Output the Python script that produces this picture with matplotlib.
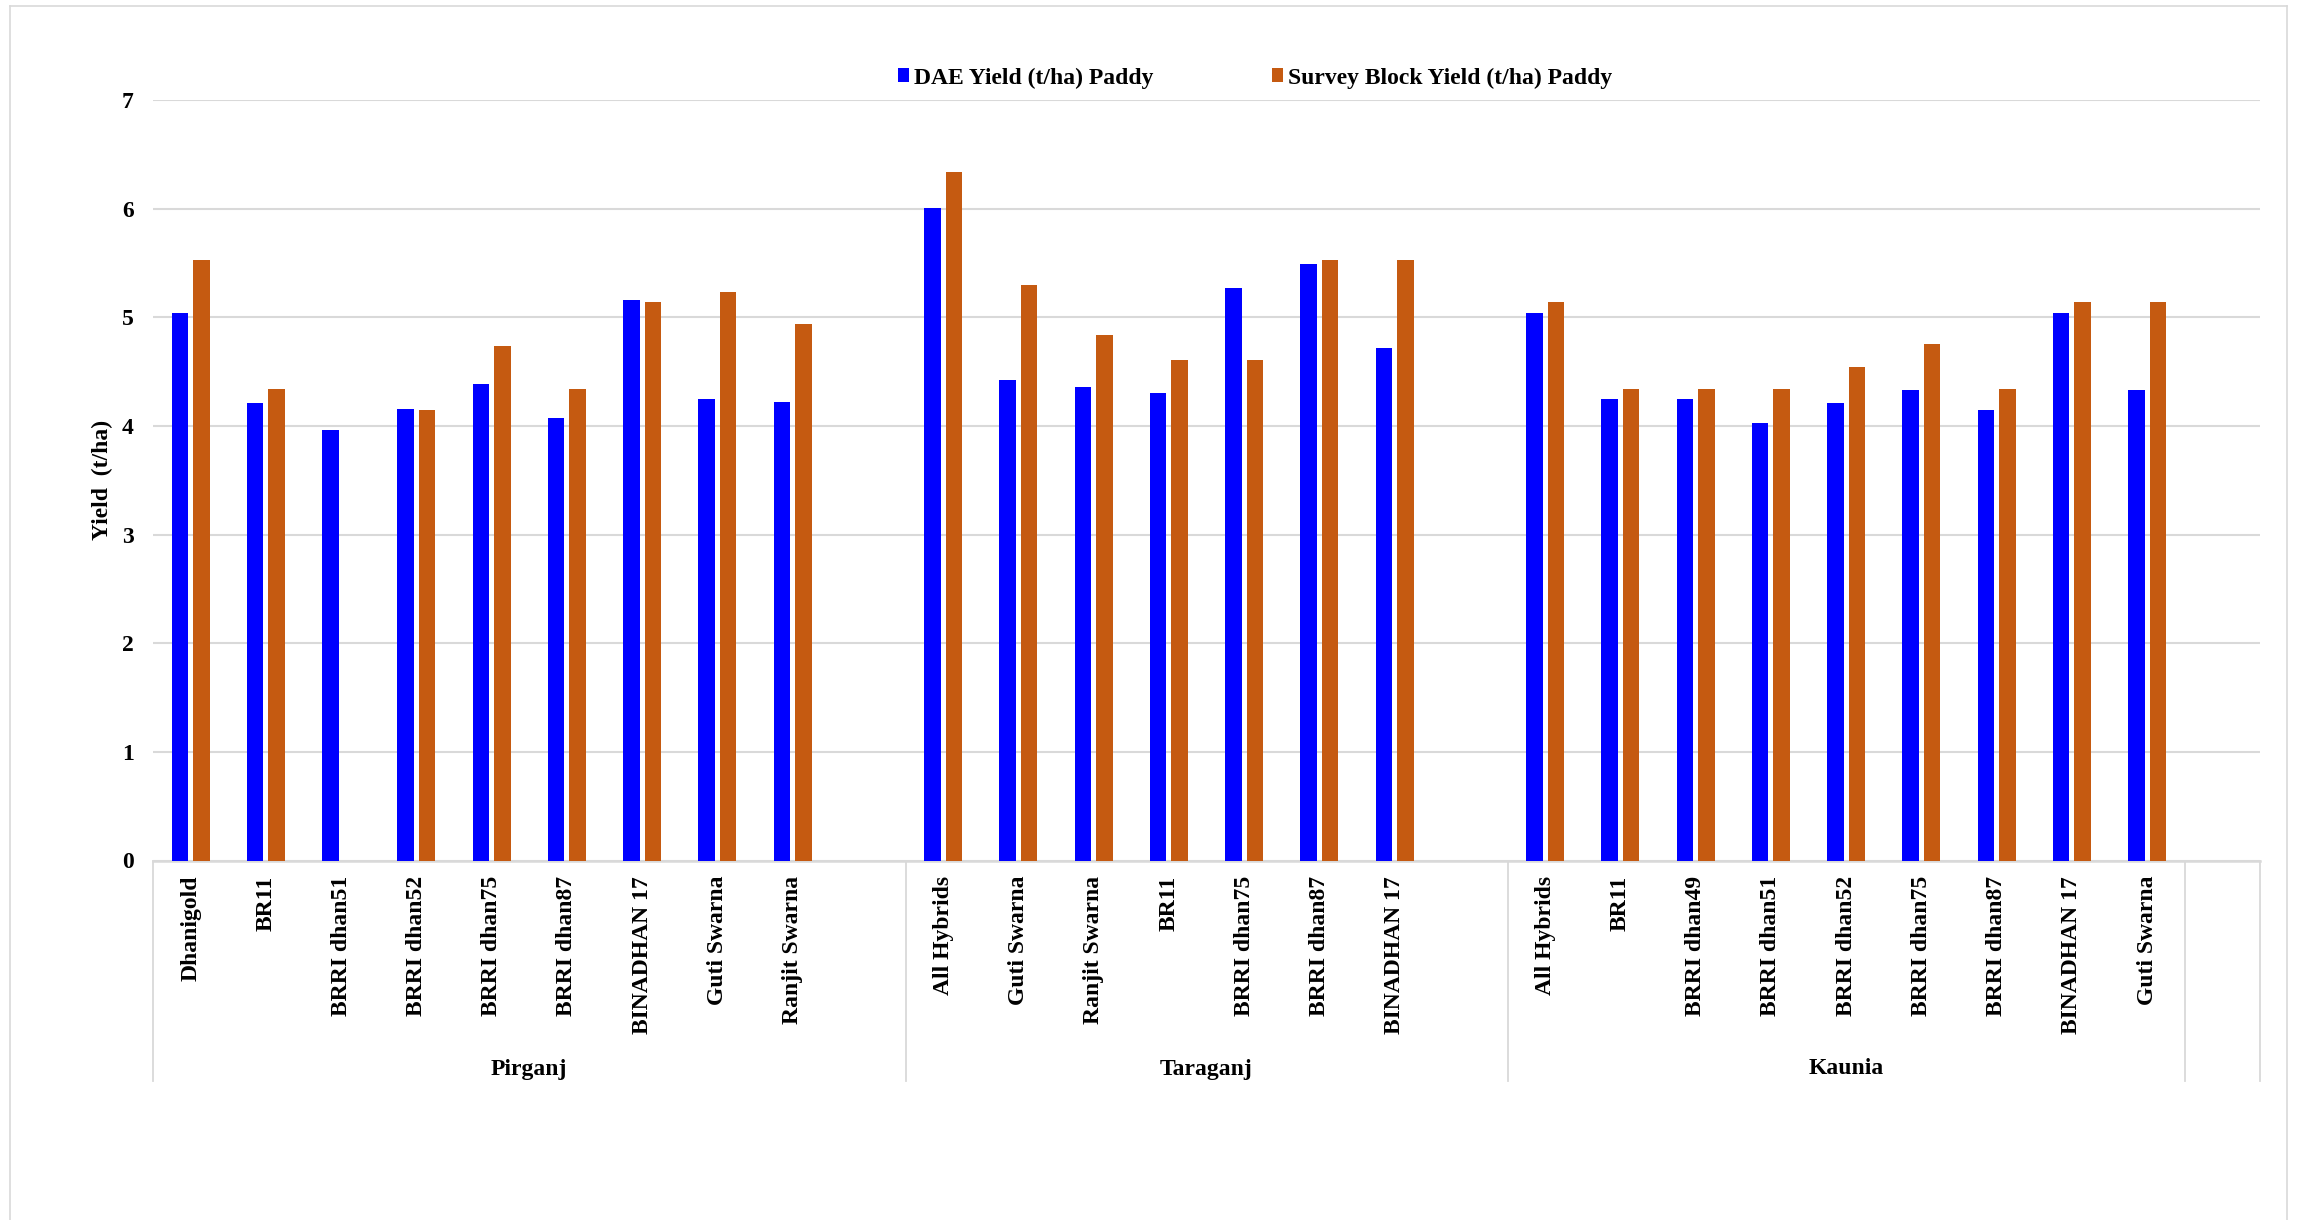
import matplotlib
matplotlib.use("Agg")
import matplotlib.pyplot as plt
from matplotlib.patches import Patch
from matplotlib.lines import Line2D
import numpy as np

# ---- data -------------------------------------------------------------
groups = ["Pirganj", "Taraganj", "Kaunia"]

pirganj_varieties = ["Dhanigold", "BR11", "BRRI dhan51", "BRRI dhan52", "BRRI dhan75",
                     "BRRI dhan87", "BINADHAN 17", "Guti Swarna", "Ranjit Swarna"]
pirganj_dae = [5.04, 4.21, 3.96, 4.16, 4.39, 4.07, 5.16, 4.25, 4.22]
pirganj_survey = [5.53, 4.34, 0.0, 4.15, 4.74, 4.34, 5.14, 5.23, 4.94]

taraganj_varieties = ["All Hybrids", "Guti Swarna", "Ranjit Swarna", "BR11",
                      "BRRI dhan75", "BRRI dhan87", "BINADHAN 17"]
taraganj_dae = [6.01, 4.42, 4.36, 4.30, 5.27, 5.49, 4.72]
taraganj_survey = [6.34, 5.30, 4.84, 4.61, 4.61, 5.53, 5.53]

kaunia_varieties = ["All Hybrids", "BR11", "BRRI dhan49", "BRRI dhan51", "BRRI dhan52",
                    "BRRI dhan75", "BRRI dhan87", "BINADHAN 17", "Guti Swarna"]
kaunia_dae = [5.04, 4.25, 4.25, 4.03, 4.21, 4.33, 4.15, 5.04, 4.33]
kaunia_survey = [5.14, 4.34, 4.34, 4.34, 4.54, 4.75, 4.34, 5.14, 5.14]

series_names = ["DAE Yield (t/ha) Paddy", "Survey Block Yield (t/ha) Paddy"]
y_ticks = [0, 1, 2, 3, 4, 5, 6, 7]

# ---- style ------------------------------------------------------------
BLUE = "#0000FF"
ORANGE = "#C55A11"
GRID = "#D9D9D9"
FONT = "Liberation Serif"
FS = 17

plt.rcParams["font.family"] = [FONT, "DejaVu Serif"]
plt.rcParams["font.weight"] = "bold"

# Each group is followed by one empty category slot
group_varieties = [pirganj_varieties, taraganj_varieties, kaunia_varieties]
group_dae = [pirganj_dae, taraganj_dae, kaunia_dae]
group_survey = [pirganj_survey, taraganj_survey, kaunia_survey]

positions, labels, dae_vals, survey_vals = [], [], [], []
group_ranges = []
pos = 0
for names, d, s in zip(group_varieties, group_dae, group_survey):
    start = pos
    for n, dv, sv in zip(names, d, s):
        positions.append(pos)
        labels.append(n)
        dae_vals.append(dv)
        survey_vals.append(sv)
        pos += 1
    if names is not kaunia_varieties:
        pos += 1  # blank slot inside the group
    group_ranges.append((start - 0.5, pos - 0.5))
total_slots = pos + 1  # trailing empty slot after last group

positions = np.array(positions, dtype=float)

fig = plt.figure(figsize=(23.01, 12.20), dpi=100)
W, H = 2301, 1220
left, right, top, bottom = 153, 2260, 100, 860.5
ax = fig.add_axes([left / W, 1 - bottom / H, (right - left) / W, (bottom - top) / H])

bw = 0.22
off = 0.142
ax.bar(positions - off, dae_vals, width=bw, color=BLUE, zorder=3,
       label=series_names[0])
ax.bar(positions + off, survey_vals, width=bw, color=ORANGE, zorder=3,
       label=series_names[1])

ax.set_xlim(-0.5, total_slots - 0.5)
ax.set_ylim(0, 7)
ax.set_yticks(y_ticks)
ax.set_yticklabels([str(t) for t in y_ticks], fontsize=FS, fontweight="bold",
                   family=FONT)
ax.yaxis.grid(True, color=GRID, linewidth=1.5, zorder=0)
ax.set_axisbelow(True)

ax.set_xticks(positions)
ax.set_xticklabels(labels, rotation=90, fontsize=FS, fontweight="bold",
                   family=FONT, va="top", ha="center")
ax.tick_params(axis="x", length=0, pad=11)
ax.tick_params(axis="y", length=0, pad=14)

for sp in ["top", "right", "left"]:
    ax.spines[sp].set_visible(False)
ax.spines["bottom"].set_color(GRID)
ax.spines["bottom"].set_linewidth(1.8)

ax.set_ylabel("Yield  (t/ha)", fontsize=FS, fontweight="bold", family=FONT)
ax.yaxis.set_label_coords((113 - left) / (right - left), 0.5)

# group separators and group names beneath the category labels
trans = ax.get_xaxis_transform()
sep_bottom = -(1081 - bottom) / (bottom - top)
sep_x = [-0.5] + [r[1] for r in group_ranges] + [total_slots - 0.5]
for x in sep_x:
    ax.plot([x, x], [0, sep_bottom], transform=trans, color=GRID, lw=1.3,
            clip_on=False, zorder=1)
label_y = -(1069 - bottom) / (bottom - top)
for g, (a, b) in zip(groups, group_ranges):
    ax.text((a + b) / 2, label_y, g, transform=trans, ha="center", va="center",
            fontsize=FS, fontweight="bold", family=FONT)

# legend
handles = [Patch(facecolor=BLUE, edgecolor="none"),
           Patch(facecolor=ORANGE, edgecolor="none")]
fig.legend(handles, series_names, loc="center", ncol=2, frameon=False,
           bbox_to_anchor=(1255 / W, 1 - 78 / H),
           prop={"family": FONT, "weight": "bold", "size": FS},
           handlelength=0.5, handleheight=0.5, handletextpad=0.2,
           columnspacing=5.0)

# outer chart-area border
for xs, ys in [([10, 2287], [6, 6]), ([10, 10], [6, 1220]), ([2287, 2287], [6, 1220])]:
    fig.add_artist(Line2D([x / W for x in xs], [1 - y / H for y in ys],
                          color=GRID, lw=1.2, transform=fig.transFigure))

fig.savefig("out.png", dpi=100, facecolor="white")
